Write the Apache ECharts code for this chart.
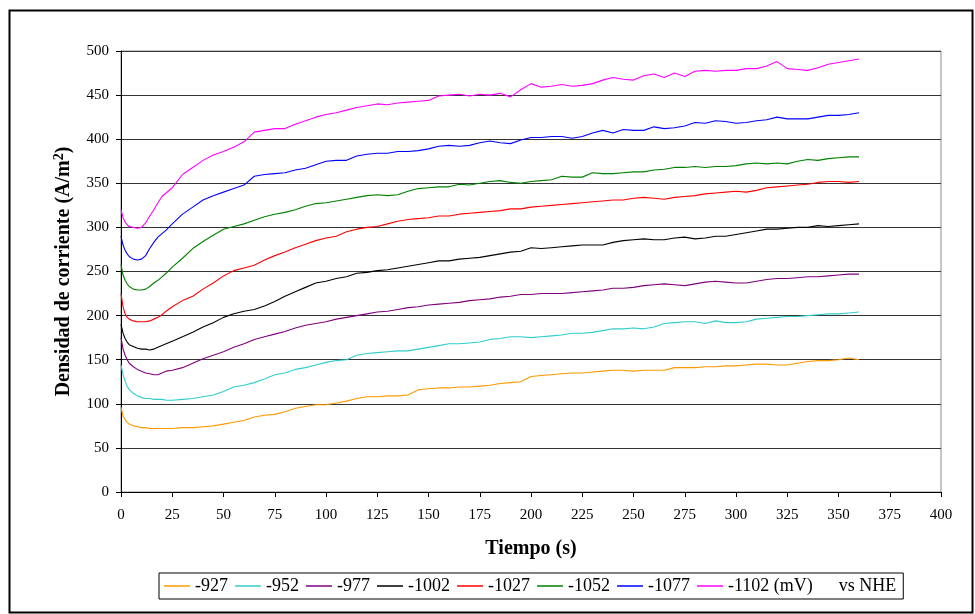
<!DOCTYPE html>
<html>
<head>
<meta charset="utf-8">
<script src="https://cdn.jsdelivr.net/npm/echarts@6/dist/echarts.min.js"></script>
<style>
  html, body { margin: 0; padding: 0; background: #fff; }
  #chart { width: 975px; height: 614px; }
</style>
</head>
<body>
<div id="chart"></div>
<script>
// Sampling times (s), shared by every potential series
const tiempo = [0, 1, 2, 3, 4, 6, 8, 10, 12, 14, 16, 18, 20, 22, 25,
  30, 35, 40, 45, 50, 55, 60, 65, 70, 75, 80, 85, 90, 95, 100,
  105, 110, 115, 120, 125, 130, 135, 140, 145, 150, 155, 160, 165, 170, 175,
  180, 185, 190, 195, 200, 205, 210, 215, 220, 225, 230, 235, 240, 245, 250,
  255, 260, 265, 270, 275, 280, 285, 290, 295, 300, 305, 310, 315, 320, 325,
  330, 335, 340, 345, 350, 355, 360];

// Current density (A/m2) at each applied potential (mV vs NHE)
const d927 = [96, 86, 82, 79, 77, 75, 74, 73, 73, 72, 72, 72, 72, 72, 72,
  73, 73, 74, 75, 77, 79, 81, 85, 87, 88, 91, 95, 97, 99, 99,
  101, 103, 106, 108, 108, 109, 109, 110, 116, 117, 118, 118, 119, 119, 120,
  121, 123, 124, 125, 131, 132, 133, 134, 135, 135, 136, 137, 138, 138, 137,
  138, 138, 138, 141, 141, 141, 142, 142, 143, 143, 144, 145, 145, 144, 144,
  146, 148, 149, 149, 150, 152, 150];

const d952 = [144, 133, 126, 120, 116, 112, 109, 107, 106, 106, 105, 105, 105, 104, 104,
  105, 106, 108, 110, 114, 119, 121, 124, 128, 133, 135, 139, 141, 144, 147,
  149, 150, 155, 157, 158, 159, 160, 160, 162, 164, 166, 168, 168, 169, 170,
  173, 174, 176, 176, 175, 176, 177, 178, 180, 180, 181, 183, 185, 185, 186,
  185, 187, 191, 192, 193, 193, 191, 194, 192, 192, 193, 196, 197, 198, 199,
  199, 200, 201, 202, 202, 203, 204];

const d977 = [175, 162, 155, 150, 146, 142, 139, 137, 135, 134, 133, 133, 135, 137, 138,
  141, 146, 151, 155, 159, 164, 168, 173, 176, 179, 182, 186, 189, 191, 193,
  196, 198, 200, 202, 204, 205, 207, 209, 210, 212, 213, 214, 215, 217, 218,
  219, 221, 222, 224, 224, 225, 225, 225, 226, 227, 228, 229, 231, 231, 232,
  234, 235, 236, 235, 234, 236, 238, 239, 238, 237, 237, 239, 241, 242, 242,
  243, 244, 244, 245, 246, 247, 247];

const d1002 = [190, 180, 174, 170, 167, 165, 163, 162, 162, 161, 162, 164, 166, 168, 171,
  176, 181, 187, 192, 198, 202, 205, 207, 211, 216, 222, 227, 232, 237, 239,
  242, 244, 248, 249, 251, 252, 254, 256, 258, 260, 262, 262, 264, 265, 266,
  268, 270, 272, 273, 277, 276, 277, 278, 279, 280, 280, 280, 283, 285, 286,
  287, 286, 286, 288, 289, 287, 288, 290, 290, 292, 294, 296, 298, 298, 299,
  300, 300, 302, 301, 302, 303, 304];

const d1027 = [225, 210, 202, 198, 196, 194, 193, 193, 193, 194, 196, 198, 201, 205, 210,
  217, 222, 230, 237, 245, 251, 254, 257, 263, 268, 272, 277, 281, 285, 288,
  290, 295, 298, 300, 301, 304, 307, 309, 310, 311, 313, 313, 315, 316, 317,
  318, 319, 321, 321, 323, 324, 325, 326, 327, 328, 329, 330, 331, 331, 333,
  334, 333, 332, 334, 335, 336, 338, 339, 340, 341, 340, 342, 345, 346, 347,
  348, 349, 351, 352, 352, 351, 352];

const d1052 = [258, 246, 240, 236, 233, 230, 229, 229, 230, 233, 237, 240, 244, 248, 255,
  265, 276, 284, 291, 298, 301, 304, 308, 312, 315, 317, 320, 324, 327, 328,
  330, 332, 334, 336, 337, 336, 337, 341, 344, 345, 346, 346, 349, 348, 350,
  352, 353, 351, 350, 352, 353, 354, 358, 357, 357, 362, 361, 361, 362, 363,
  363, 365, 366, 368, 368, 369, 368, 369, 369, 370, 372, 373, 372, 373, 372,
  375, 377, 376, 378, 379, 380, 380];

const d1077 = [290, 280, 274, 270, 267, 264, 263, 264, 268, 276, 283, 289, 293, 297, 304,
  315, 323, 331, 336, 340, 344, 348, 358, 360, 361, 362, 365, 367, 371, 375,
  376, 376, 381, 383, 384, 384, 386, 386, 387, 389, 392, 393, 392, 393, 396,
  398, 396, 395, 399, 402, 402, 403, 403, 401, 403, 407, 410, 407, 411, 410,
  410, 414, 412, 413, 415, 419, 418, 421, 420, 418, 419, 421, 422, 425, 423,
  423, 423, 425, 427, 427, 428, 430];

const d1102 = [320, 311, 306, 303, 301, 300, 299, 300, 305, 313, 320, 328, 335, 339, 345,
  360, 368, 376, 382, 386, 391, 397, 408, 410, 412, 412, 417, 421, 425, 428,
  430, 433, 436, 438, 440, 439, 441, 442, 443, 444, 449, 450, 451, 449, 451,
  450, 452, 448, 456, 463, 459, 460, 462, 460, 461, 463, 467, 470, 468, 467,
  472, 474, 470, 475, 471, 477, 478, 477, 478, 478, 480, 480, 483, 488, 480,
  479, 478, 481, 485, 487, 489, 491];

const nombres = ['-927', '-952', '-977', '-1002', '-1027', '-1052', '-1077', '-1102 (mV)'];
const colores = ['#FF9900', '#33CCCC', '#800080', '#000000', '#FF0000', '#008000', '#0000FF', '#FF00FF'];
const valores = [d927, d952, d977, d1002, d1027, d1052, d1077, d1102];

const xTicks = { min: 0, max: 400, interval: 25 };
const yTicks = { min: 0, max: 500, interval: 50 };

const fuente = 'Liberation Serif, Times New Roman, serif';

const series = nombres.map((n, i) => ({
  name: n,
  type: 'line',
  data: tiempo.map((t, k) => [t, valores[i][k]]),
  symbol: 'none',
  showSymbol: false,
  lineStyle: { color: colores[i], width: 1.1 },
  itemStyle: { color: colores[i] },
  animation: false
}));

const chart = echarts.init(document.getElementById('chart'), null, { renderer: 'canvas' });
chart.setOption({
  backgroundColor: '#ffffff',
  animation: false,
  grid: {
    left: 121, top: 51, right: 34, bottom: 122,
    show: true, borderColor: '#8c8c8c', borderWidth: 1, backgroundColor: 'transparent'
  },
  xAxis: {
    type: 'value',
    min: xTicks.min, max: xTicks.max, interval: xTicks.interval,
    name: 'Tiempo (s)',
    nameLocation: 'middle',
    nameGap: 47,
    nameTextStyle: { fontFamily: fuente, fontSize: 20, fontWeight: 'bold', color: '#000' },
    axisLine: { show: true, lineStyle: { color: '#000', width: 1 } },
    axisTick: { show: true, inside: false, length: 5, lineStyle: { color: '#000' } },
    axisLabel: { fontFamily: fuente, fontSize: 15, color: '#000', margin: 16 },
    splitLine: { show: false }
  },
  yAxis: {
    type: 'value',
    min: yTicks.min, max: yTicks.max, interval: yTicks.interval,
    name: 'Densidad de corriente (A/m{sup|2})',
    nameLocation: 'middle',
    nameGap: 45,
    nameRotate: 90,
    nameTextStyle: {
      fontFamily: fuente, fontSize: 20, fontWeight: 'bold', color: '#000',
      rich: { sup: { fontFamily: fuente, fontSize: 14, fontWeight: 'bold', verticalAlign: 'top', padding: [0, 0, 10, 0] } }
    },
    axisLine: { show: true, lineStyle: { color: '#000', width: 1 } },
    axisTick: { show: true, inside: false, length: 5, lineStyle: { color: '#000' } },
    axisLabel: { fontFamily: fuente, fontSize: 15, color: '#000', margin: 12 },
    splitLine: { show: true, lineStyle: { color: '#333', width: 1 } }
  },
  legend: {
    left: 159, top: 573,
    orient: 'horizontal',
    data: nombres.map((n) => ({ name: n, icon: 'rect' })),
    itemWidth: 26, itemHeight: 1.5, itemGap: 7,
    padding: [4, 7, 4, 5],
    borderColor: '#000', borderWidth: 1,
    backgroundColor: '#fff',
    textStyle: {
      fontFamily: fuente, fontSize: 18, color: '#000', lineHeight: 18,
      rich: { nhe: { fontFamily: fuente, fontSize: 18, color: '#000', padding: [0, 0, 0, 26] } }
    },
    formatter: (n) => n === '-1102 (mV)' ? n + '{nhe|vs NHE}' : n
  },
  graphic: [{
    type: 'rect',
    shape: { x: 9.5, y: 10.5, width: 963, height: 602 },
    style: { fill: 'none', stroke: '#000', lineWidth: 2 },
    silent: true, z: -1
  }],
  series: series
});
</script>
</body>
</html>
